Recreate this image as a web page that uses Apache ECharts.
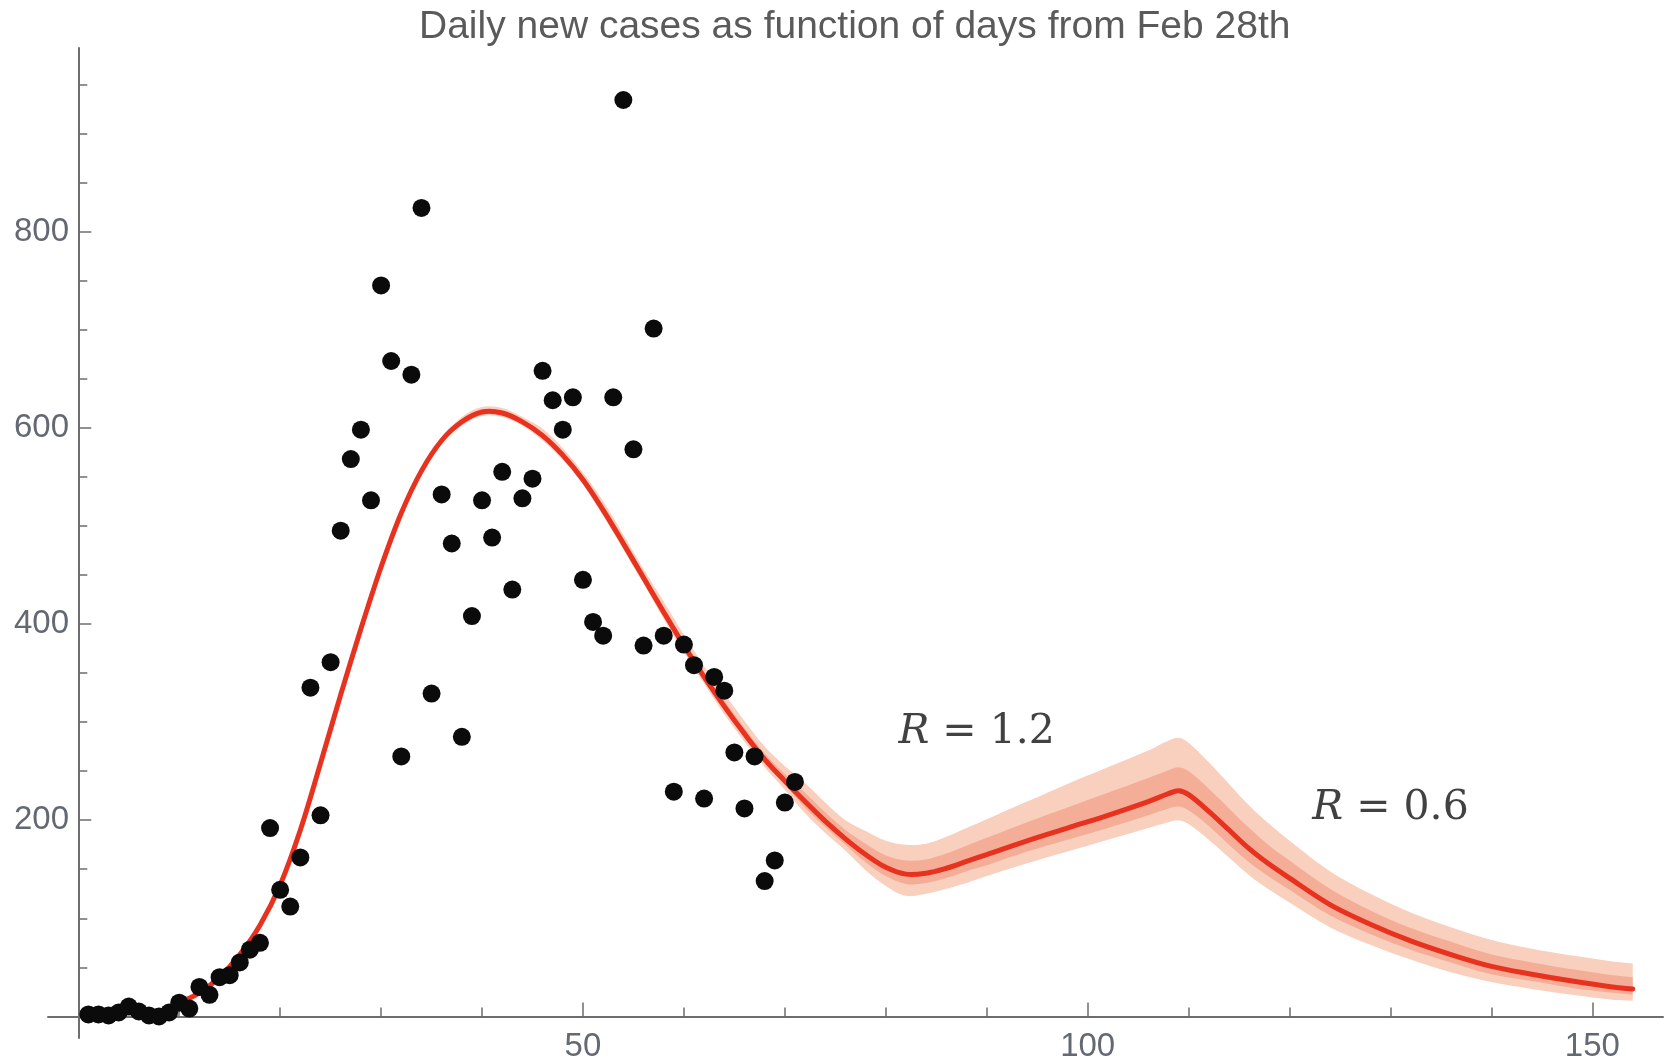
<!DOCTYPE html>
<html>
<head>
<meta charset="utf-8">
<script src="https://cdn.jsdelivr.net/npm/echarts@6/dist/echarts.min.js"></script>
<style>
  html, body { margin: 0; padding: 0; background: #ffffff; }
  #chart { width: 1669px; height: 1063px; }
</style>
</head>
<body>
<div id="chart"></div>
<script>
// Reported daily new cases, day 1 = Feb 28th
const days = [];
for (let d = 1; d <= 71; d++) days.push(d);
const newCases = [
  2, 2, 1, 4, 10, 5, 1, 0, 4, 14,
  8, 30, 22, 40, 42, 55, 68, 75, 192, 129,
  112, 162, 335, 205, 361, 495, 568, 598, 526, 745,
  668, 265, 654, 824, 329, 532, 482, 285, 408, 526,
  488, 555, 435, 528, 548, 658, 628, 598, 631, 445,
  402, 388, 631, 934, 578, 378, 701, 388, 229, 379,
  358, 222, 346, 332, 269, 212, 265, 138, 159, 218,
  239
];

// Model fit: central estimate with inner and outer confidence bands
const fitDays = [10, 12, 14, 16, 18, 20, 22, 24, 26, 28, 30, 32, 34, 36, 38, 40, 42, 44, 46, 48,
  50, 52, 54, 56, 58, 60, 62, 64, 66, 68, 70, 72, 74, 76, 78, 80, 82, 84, 86, 88,
  90, 94, 98, 102, 106, 108, 109, 110, 112, 114, 116, 118, 120, 124, 128, 132, 136, 140, 144, 148,
  152, 154];
const fitCenter = [14, 24, 40, 63, 93, 134, 190, 258, 328, 395, 458, 513, 556, 587, 606, 616, 615, 606, 592, 572,
  547, 516, 482, 447, 412, 378, 346, 316, 288, 262, 240, 219, 199, 181, 165, 152, 145, 146, 151, 158,
  165, 179, 192, 205, 219, 227, 230, 226, 209, 190, 171, 155, 141, 114, 94, 77, 63, 51, 43, 36,
  30, 28];
const outerHigh = [16, 26, 42, 65, 95, 136, 192, 260, 330, 397, 460, 516, 559, 590, 611, 621, 620, 611, 599, 579,
  554, 525, 491, 456, 423, 389, 357, 329, 301, 275, 255, 238, 218, 200, 189, 179, 175, 176, 183, 192,
  201, 219, 237, 254, 271, 281, 284, 279, 259, 237, 215, 196, 179, 148, 125, 106, 91, 78, 69, 62,
  56, 54];
const outerLow = [12, 22, 38, 61, 91, 132, 188, 256, 326, 393, 456, 510, 553, 584, 602, 612, 611, 602, 587, 567,
  542, 510, 476, 441, 405, 371, 339, 308, 280, 254, 231, 207, 187, 169, 149, 133, 123, 125, 130, 136,
  143, 156, 168, 180, 192, 198, 200, 196, 180, 162, 144, 129, 116, 91, 73, 58, 45, 35, 28, 22,
  17, 16];
const innerHigh = [15, 25, 41, 64, 94, 135, 191, 259, 329, 396, 459, 514, 557, 588, 608, 618, 617, 608, 595, 575,
  550, 520, 486, 451, 417, 383, 351, 322, 294, 268, 247, 228, 208, 190, 176, 164, 159, 160, 166, 174,
  182, 198, 213, 228, 243, 251, 254, 250, 232, 212, 192, 174, 159, 130, 108, 90, 76, 63, 55, 48,
  42, 40];
const innerLow = [13, 23, 39, 62, 92, 133, 189, 257, 327, 394, 457, 512, 555, 586, 604, 614, 613, 604, 590, 570,
  545, 513, 479, 444, 409, 375, 343, 312, 284, 258, 236, 213, 193, 175, 157, 143, 135, 136, 141, 148,
  154, 168, 180, 192, 205, 212, 214, 210, 194, 175, 157, 142, 129, 103, 84, 68, 55, 43, 36, 29,
  24, 22];

// Axis ticks
const xMajorTicks = [50, 100, 150];
const xMinorTicks = [10, 20, 30, 40, 60, 70, 80, 90, 110, 120, 130, 140];
const yMajorTicks = [200, 400, 600, 800];
const yMinorTicks = [50, 100, 150, 250, 300, 350, 450, 500, 550, 650, 700, 750, 850, 900, 950];

// Reproduction-number annotations
const annotationDays = [89, 130];
const annotationValues = [290, 212];
const annotationR = ['1.2', '0.6'];

const pairs = (xs, ys) => xs.map((x, i) => [x, ys[i]]);

const axisColor = '#6e6e6e';
const labelColor = '#636873';
const labelFont = { fontFamily: 'Liberation Sans, Arial, sans-serif', fontSize: 33, color: labelColor };
const SMOOTH = 0.35;

// Closed band outline: upper edge left to right, lower edge back again.
// End points are repeated so the smoothing keeps the cut ends square.
function bandRenderer(low, high, color) {
  return function (params, api) {
    const upper = fitDays.map((d, j) => api.coord([d, high[j]]));
    const lower = fitDays.map((d, j) => api.coord([d, low[j]])).reverse();
    const n = upper.length;
    const points = [upper[0]].concat(upper, [upper[n - 1], lower[0]], lower, [lower[n - 1]]);
    return {
      type: 'polygon',
      shape: { points: points, smooth: SMOOTH },
      style: { fill: color },
      silent: true
    };
  };
}

// Central fit curve, smoothed the same way as the bands
function curveRenderer(values, color, width) {
  return function (params, api) {
    const points = fitDays.map((d, j) => api.coord([d, values[j]]));
    return {
      type: 'polyline',
      shape: { points: points, smooth: SMOOTH },
      style: { stroke: color, lineWidth: width, fill: null, lineCap: 'round', lineJoin: 'round' },
      silent: true
    };
  };
}

const chart = echarts.init(document.getElementById('chart'), null, { renderer: 'canvas' });

const option = {
  animation: false,
  backgroundColor: '#ffffff',
  title: {
    text: 'Daily new cases as function of days from Feb 28th',
    left: 414,
    top: 3,
    textStyle: { fontFamily: 'Liberation Sans, Arial, sans-serif', fontSize: 39, fontWeight: 'normal', color: '#5a5a5a' }
  },
  grid: { left: 48, right: 6, top: 48, bottom: 25, containLabel: false, outerBoundsMode: 'none' },
  xAxis: [
    {
      type: 'value', min: -3, max: 157, position: 'bottom',
      axisLine: { show: true, onZero: true, onZeroAxisIndex: 0, lineStyle: { color: axisColor, width: 2 } },
      axisTick: { show: true, inside: true, length: 14, customValues: xMajorTicks, lineStyle: { color: axisColor, width: 1.5 } },
      axisLabel: Object.assign({ show: true, customValues: xMajorTicks, margin: -8 }, labelFont),
      splitLine: { show: false }
    },
    {
      type: 'value', min: -3, max: 157, position: 'bottom',
      axisLine: { show: false, onZero: true, onZeroAxisIndex: 0 },
      axisTick: { show: true, inside: true, length: 9, customValues: xMinorTicks, lineStyle: { color: axisColor, width: 1.5 } },
      axisLabel: { show: false },
      splitLine: { show: false }
    }
  ],
  yAxis: [
    {
      type: 'value', min: -22, max: 987, position: 'left',
      axisLine: { show: true, onZero: true, onZeroAxisIndex: 0, lineStyle: { color: axisColor, width: 2 } },
      axisTick: { show: true, inside: true, length: 13, customValues: yMajorTicks, lineStyle: { color: axisColor, width: 1.5 } },
      axisLabel: Object.assign({ show: true, customValues: yMajorTicks, margin: -21 }, labelFont),
      splitLine: { show: false }
    },
    {
      type: 'value', min: -22, max: 987, position: 'left',
      axisLine: { show: false, onZero: true, onZeroAxisIndex: 0 },
      axisTick: { show: true, inside: true, length: 9, customValues: yMinorTicks, lineStyle: { color: axisColor, width: 1.5 } },
      axisLabel: { show: false },
      splitLine: { show: false }
    }
  ],
  series: [
    {
      name: 'outerBand', type: 'custom', coordinateSystem: 'cartesian2d', clip: false, silent: true,
      renderItem: bandRenderer(outerLow, outerHigh, '#f9cfbd'),
      data: [[fitDays[0], fitCenter[0]]]
    },
    {
      name: 'innerBand', type: 'custom', coordinateSystem: 'cartesian2d', clip: false, silent: true,
      renderItem: bandRenderer(innerLow, innerHigh, '#f4ad96'),
      data: [[fitDays[0], fitCenter[0]]]
    },
    {
      name: 'fit', type: 'custom', coordinateSystem: 'cartesian2d', clip: false, silent: true,
      renderItem: curveRenderer(fitCenter, '#e6321f', 5),
      data: [[fitDays[0], fitCenter[0]]]
    },
    {
      name: 'cases', type: 'scatter', symbol: 'circle', symbolSize: 18,
      itemStyle: { color: '#0b0b0b', opacity: 1 },
      data: pairs(days, newCases)
    },
    {
      name: 'R', type: 'scatter', symbolSize: 0, silent: true,
      data: annotationDays.map((d, i) => [d, annotationValues[i], annotationR[i]]),
      label: {
        show: true, position: 'inside',
        formatter: p => '{i|R}{n| = ' + p.value[2] + '}',
        rich: {
          i: { fontFamily: 'DejaVu Serif, serif', fontStyle: 'italic', fontSize: 41, color: '#111' },
          n: { fontFamily: 'DejaVu Serif, serif', fontSize: 41, color: '#111' }
        }
      }
    }
  ]
};
chart.setOption(option);
</script>
</body>
</html>
